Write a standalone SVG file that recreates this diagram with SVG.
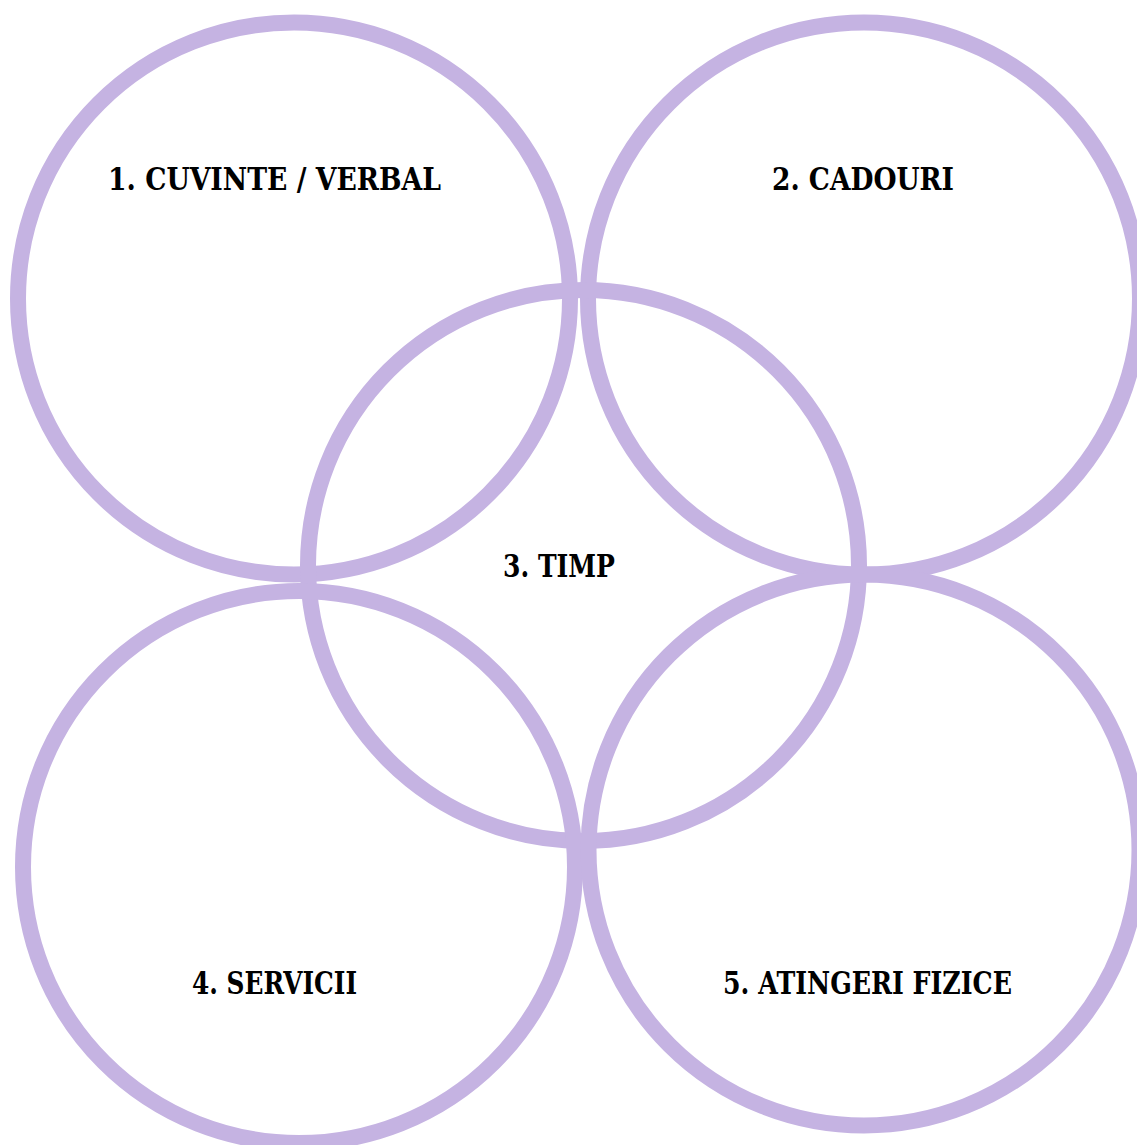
<svg xmlns="http://www.w3.org/2000/svg" width="1137" height="1145" viewBox="0 0 1137 1145">
<style>
.ring{fill:none;stroke:#C5B3E2;stroke-width:16}
.lbl{font-family:"DejaVu Serif","Liberation Serif",serif;font-weight:bold;font-size:31px;fill:#000;text-anchor:middle}
</style>
<rect width="1137" height="1145" fill="#fff"/>
<g id="node1"><circle class="ring" cx="294" cy="298.5" r="276"/><text class="lbl" x="274.5" y="190" textLength="333" lengthAdjust="spacingAndGlyphs">1. CUVINTE / VERBAL</text></g>
<g id="node2"><circle class="ring" cx="864" cy="298.5" r="276"/><text class="lbl" x="863" y="190" textLength="182" lengthAdjust="spacingAndGlyphs">2. CADOURI</text></g>
<g id="node3"><circle class="ring" cx="583.5" cy="565.5" r="275.5"/><text class="lbl" x="559" y="577" textLength="112" lengthAdjust="spacingAndGlyphs">3. TIMP</text></g>
<g id="node4"><circle class="ring" cx="299" cy="867" r="276"/><text class="lbl" x="274.5" y="994" textLength="165" lengthAdjust="spacingAndGlyphs">4. SERVICII</text></g>
<g id="node5"><circle class="ring" cx="864" cy="850" r="275.5"/><text class="lbl" x="867.5" y="994" textLength="289" lengthAdjust="spacingAndGlyphs">5. ATINGERI FIZICE</text></g>
<g id="connectors"></g>
</svg>
